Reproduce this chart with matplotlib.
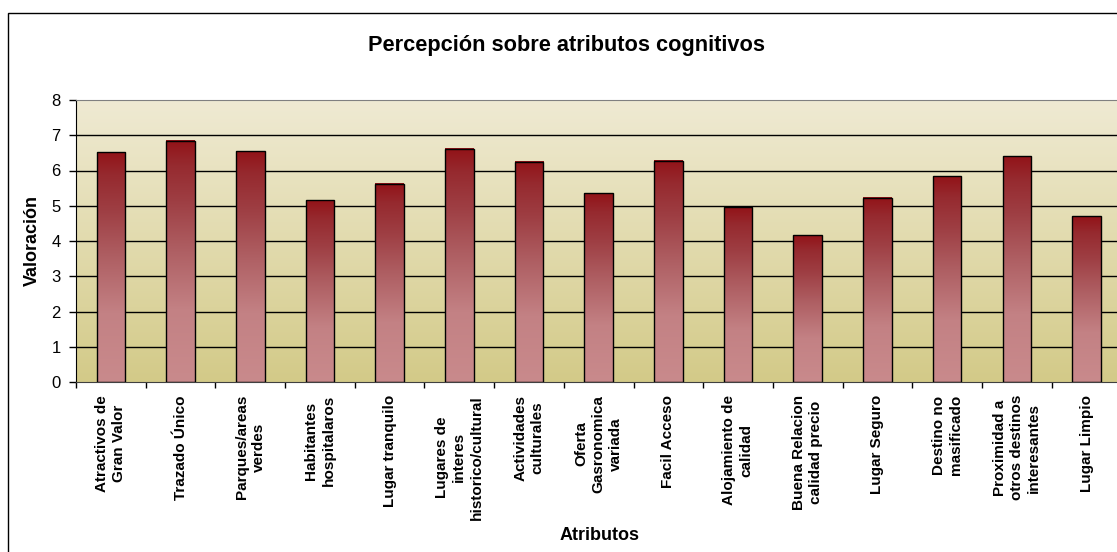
import numpy as np
import matplotlib
matplotlib.use('Agg')
import matplotlib.pyplot as plt
from matplotlib.colors import LinearSegmentedColormap
from matplotlib.patches import Rectangle

plt.rcParams['font.family'] = ['Liberation Sans', 'DejaVu Sans']

# datos
atributos = [
    "Atractivos de\nGran Valor", "Trazado Único", "Parques/areas\nverdes",
    "Habitantes\nhospitalaros", "Lugar tranquilo",
    "Lugares de\ninteres\nhistorico/cultural", "Actividades\nculturales",
    "Oferta\nGasronomica\nvariada", "Facil Acceso", "Alojamiento de\ncalidad",
    "Buena Relacion\ncalidad precio", "Lugar Seguro", "Destino no\nmasificado",
    "Proximidad a\notros destinos\ninteresantes", "Lugar Limpio",
]
valoracion = [6.52, 6.84, 6.54, 5.15, 5.63, 6.62, 6.25, 5.35, 6.28, 4.96,
              4.16, 5.23, 5.84, 6.41, 4.70]
y_ticks = [0, 1, 2, 3, 4, 5, 6, 7, 8]

W, H = 1117, 552
fig = plt.figure(figsize=(W / 100, H / 100), dpi=100)
fig.patch.set_facecolor('white')

# marco exterior (recortado a la derecha y abajo)
fig.add_artist(Rectangle((7.5 / W, -0.1), 1.2, 0.1 + 1 - 13 / H,
                         transform=fig.transFigure, fill=False,
                         edgecolor='black', linewidth=1.0))

ax = fig.add_axes([76 / W, 1 - 382 / H, (1121.4 - 76) / W, 282 / H])

# fondo degradado
fondo = LinearSegmentedColormap.from_list('fondo', ['#D3CA88', '#E2DBAE', '#EFEAD3'])
grad = np.linspace(0, 1, 256).reshape(-1, 1)
ax.imshow(grad, cmap=fondo, origin='lower', extent=(0, 1, 0, 1),
          transform=ax.transAxes, aspect='auto', zorder=0)

# lineas de division
for t in y_ticks[1:-1]:
    ax.axhline(t, color='black', linewidth=1.0, zorder=1)

# barras con degradado
barra_cmap = LinearSegmentedColormap.from_list(
    'barra', [(0.0, '#C98A8C'), (0.3, '#C38184'), (0.55, '#AE5E62'),
              (0.75, '#9E3E43'), (0.9, '#962A2F'), (1.0, '#921318')])
ancho = 0.41
x = np.arange(len(atributos))
ax.bar(x, valoracion, width=ancho, facecolor='none',
       edgecolor='black', linewidth=1.0, zorder=3)
for xi, v in zip(x, valoracion):
    ax.imshow(grad, cmap=barra_cmap, origin='lower',
              extent=(xi - ancho / 2, xi + ancho / 2, 0, v),
              aspect='auto', zorder=2)
ax.set_xlim(-0.5, len(atributos) - 0.5)
ax.set_ylim(0, 8)

# ejes
ax.spines['top'].set_color('#808080')
ax.spines['right'].set_visible(False)
ax.spines['left'].set_color('black')
ax.spines['bottom'].set_color('#404040')

ax.set_yticks(y_ticks)
ax.tick_params(axis='y', direction='out', length=5, width=1, pad=6,
               labelsize=12)
ax.set_xticks(x)
ax.set_xticks(np.arange(-0.5, len(atributos)), minor=True)
ax.tick_params(axis='x', which='major', length=0, pad=9.4)
ax.tick_params(axis='x', which='minor', direction='out', length=4, width=1)
ax.set_xticklabels(atributos, rotation=90, fontsize=11, fontweight='bold',
                   multialignment='center', linespacing=1.3,
                   ha='center', va='top')

fig.text(566.5 / W, 1 - 51 / H, 'Percepción sobre atributos cognitivos',
         ha='center', va='baseline', fontsize=15.7, fontweight='bold')
fig.text(32 / W, 1 - 241 / H, 'Valoración', rotation=90,
         ha='center', va='center', fontsize=13, fontweight='bold')
fig.text(599.5 / W, 1 - 536 / H, 'Atributos',
         ha='center', va='center', fontsize=13, fontweight='bold')

fig.savefig('out.png', dpi=100)
